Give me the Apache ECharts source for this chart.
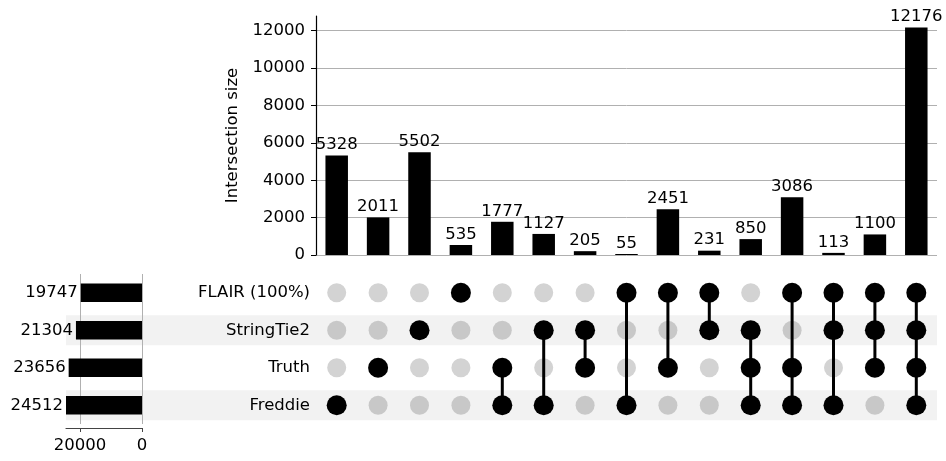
<!DOCTYPE html>
<html>
<head>
<meta charset="utf-8">
<script src="https://cdn.jsdelivr.net/npm/echarts@6/dist/echarts.min.js"></script>
<style>
html,body{margin:0;padding:0;background:#fff;}
#chart{width:946px;height:461px;}
</style>
</head>
<body>
<div id="chart"></div>
<script>
// ---- data ----
const sets = ['FLAIR (100%)', 'StringTie2', 'Truth', 'Freddie'];
const setTotals = [19747, 21304, 23656, 24512];
const intersectionSizes = [5328, 2011, 5502, 535, 1777, 1127, 205, 55, 2451, 231, 850, 3086, 113, 1100, 12176];
const intersectionMembers = [
  ['Freddie'],
  ['Truth'],
  ['StringTie2'],
  ['FLAIR (100%)'],
  ['Truth', 'Freddie'],
  ['StringTie2', 'Freddie'],
  ['StringTie2', 'Truth'],
  ['FLAIR (100%)', 'Freddie'],
  ['FLAIR (100%)', 'Truth'],
  ['FLAIR (100%)', 'StringTie2'],
  ['StringTie2', 'Truth', 'Freddie'],
  ['FLAIR (100%)', 'Truth', 'Freddie'],
  ['FLAIR (100%)', 'StringTie2', 'Freddie'],
  ['FLAIR (100%)', 'StringTie2', 'Truth'],
  ['FLAIR (100%)', 'StringTie2', 'Truth', 'Freddie']
];
const sizeTicks = [0, 2000, 4000, 6000, 8000, 10000, 12000];
const totalTicks = [0, 20000];
const sizeAxisMax = 12785;

// ---- derived ----
const cols = intersectionSizes.map((_, i) => 'I' + i);
const activeDots = [], inactiveDots = [], connectors = [];
intersectionMembers.forEach((mem, c) => {
  const rows = mem.map(m => sets.indexOf(m));
  sets.forEach((s, r) => {
    if (rows.indexOf(r) >= 0) activeDots.push([c, r]);
    else inactiveDots.push([c, r]);
  });
  if (rows.length > 1) connectors.push([c, Math.min(...rows), Math.max(...rows)]);
});
const stripeData = sets.map((s, i) => (i % 2 === 1 ? 1 : '-'));

const FONT = 'DejaVu Sans';
const FS = 16.5;
const txt = { fontFamily: FONT, fontSize: FS, color: '#000' };
const plain = v => String(v);

const chart = echarts.init(document.getElementById('chart'), null, { renderer: 'canvas' });
chart.setOption({
  animation: false,
  backgroundColor: '#fff',
  grid: [
    { left: 66, right: 9, top: 274, height: 150 },   // stripes
    { left: 316, right: 9, top: 16, height: 239 },   // intersection bars
    { left: 316, right: 9, top: 274, height: 150 },  // matrix
    { left: 66, width: 76, top: 274, height: 150 }   // totals
  ],
  xAxis: [
    { gridIndex: 0, type: 'value', min: 0, max: 1, show: false },
    { gridIndex: 1, type: 'category', data: cols, axisLine: { show: false }, axisTick: { show: false }, axisLabel: { show: false } },
    { gridIndex: 2, type: 'category', data: cols, show: false },
    {
      gridIndex: 3, type: 'value', inverse: true, min: 0, max: Math.max(...setTotals), offset: 4, z: 1,
      axisLine: { show: true, lineStyle: { color: '#444', width: 1.2 } },
      axisTick: { show: true, length: 4, lineStyle: { color: '#444' }, customValues: totalTicks },
      axisLabel: Object.assign({ margin: 9, customValues: totalTicks, formatter: plain }, txt),
      splitLine: { show: true, lineStyle: { color: '#b0b0b0', width: 1 }, customValues: totalTicks }
    }
  ],
  yAxis: [
    { gridIndex: 0, type: 'category', data: sets, inverse: true, show: false },
    {
      gridIndex: 1, type: 'value', min: 0, max: sizeAxisMax, interval: 2000,
      name: 'Intersection size', nameLocation: 'middle', nameGap: 66,
      nameTextStyle: { fontFamily: FONT, fontSize: FS, color: '#000' },
      axisLine: { show: true, lineStyle: { color: '#000', width: 1.2 } },
      axisTick: { show: true, length: 5, lineStyle: { color: '#000' }, customValues: sizeTicks },
      axisLabel: Object.assign({ margin: 11, customValues: sizeTicks, formatter: plain }, txt),
      splitLine: { show: true, lineStyle: { color: '#b0b0b0', width: 1 }, customValues: sizeTicks }
    },
    {
      gridIndex: 2, type: 'category', data: sets, inverse: true,
      axisLine: { show: false }, axisTick: { show: false },
      axisLabel: Object.assign({ margin: 6 }, txt)
    },
    { gridIndex: 3, type: 'category', data: sets, inverse: true, show: false }
  ],
  series: [
    {
      type: 'bar', xAxisIndex: 0, yAxisIndex: 0, data: stripeData, barWidth: '80%', silent: true, z: 0,
      itemStyle: { color: '#f2f2f2' }
    },
    {
      type: 'bar', xAxisIndex: 1, yAxisIndex: 1, data: intersectionSizes, barWidth: 22.5,
      itemStyle: { color: '#000' },
      label: Object.assign({ show: true, position: 'top', distance: 2 }, txt)
    },
    {
      type: 'custom', xAxisIndex: 2, yAxisIndex: 2, data: connectors, z: 3,
      renderItem: function (params, api) {
        const p1 = api.coord([api.value(0), api.value(1)]);
        const p2 = api.coord([api.value(0), api.value(2)]);
        return { type: 'line', shape: { x1: p1[0], y1: p1[1], x2: p2[0], y2: p2[1] }, style: { stroke: '#000', lineWidth: 3 } };
      }
    },
    {
      type: 'scatter', xAxisIndex: 2, yAxisIndex: 2, data: inactiveDots, symbolSize: 19, z: 2,
      itemStyle: { opacity: 1, color: function (p) { return p.data[1] % 2 === 1 ? '#c8c8c8' : '#d3d3d3'; } }
    },
    {
      type: 'scatter', xAxisIndex: 2, yAxisIndex: 2, data: activeDots, symbolSize: 20, z: 4,
      itemStyle: { opacity: 1, color: '#000' }
    },
    {
      type: 'bar', xAxisIndex: 3, yAxisIndex: 3, data: setTotals, barWidth: 18.5, z: 2,
      itemStyle: { color: '#000' },
      label: Object.assign({ show: true, position: 'left', distance: 3 }, txt)
    }
  ]
});
</script>
</body>
</html>
